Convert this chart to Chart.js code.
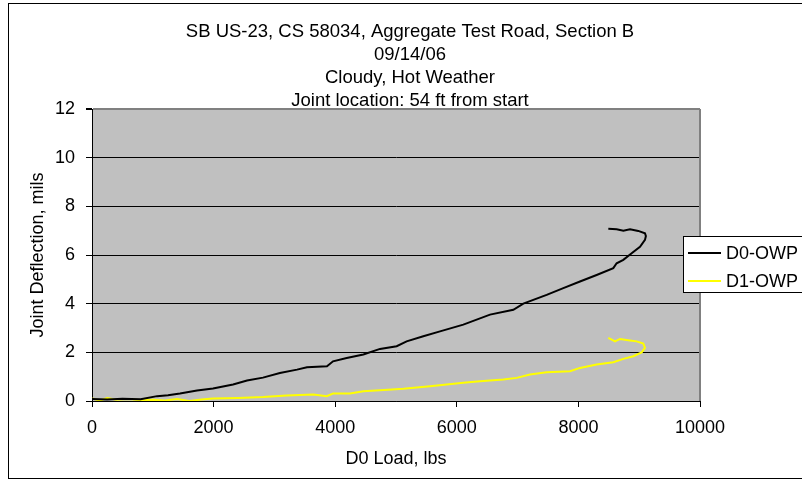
<!DOCTYPE html>
<html><head><meta charset="utf-8">
<script src="https://cdn.jsdelivr.net/npm/chart.js@4.4.1/dist/chart.umd.min.js"></script>
<style>html,body{margin:0;padding:0;background:#fff}canvas{display:block}</style>
</head><body>
<canvas id="c" width="802" height="484"></canvas>
<script>
const titleLines = ['SB US-23, CS 58034, Aggregate Test Road, Section B', '09/14/06', 'Cloudy, Hot Weather', 'Joint location: 54 ft from start'];
const xTitle = 'D0 Load, lbs';
const yTitle = 'Joint Deflection, mils';
const xTickValues = [0, 2000, 4000, 6000, 8000, 10000];
const yTickValues = [0, 2, 4, 6, 8, 10, 12];
const seriesNames = ['D0-OWP', 'D1-OWP'];
const seriesColors = ['#000000', '#FFFF00'];

const loadD0 = [0, 250, 500, 800, 1070, 1250, 1447, 1727, 1990, 2320, 2550, 2812, 3090, 3372, 3536, 3865, 3964, 4189, 4463, 4737, 5011, 5175, 5449, 5724, 6107, 6546, 6930, 7094, 7478, 7752, 8026, 8300, 8574, 8629, 8739, 8876, 9013, 9095, 9110, 9095, 8985, 8849, 8739, 8629, 8492];
const defD0  = [0.08, 0.06, 0.09, 0.07, 0.2, 0.24, 0.31, 0.43, 0.51, 0.68, 0.84, 0.96, 1.15, 1.29, 1.39, 1.43, 1.63, 1.77, 1.91, 2.14, 2.25, 2.45, 2.66, 2.86, 3.14, 3.55, 3.75, 4.0, 4.36, 4.64, 4.91, 5.18, 5.46, 5.66, 5.8, 6.07, 6.34, 6.62, 6.78, 6.89, 6.99, 7.06, 7.0, 7.06, 7.08];

const loadD1 = [0, 130, 250, 400, 600, 800, 1000, 1200, 1400, 1600, 1800, 1990, 2400, 2812, 3200, 3640, 3860, 3964, 4243, 4463, 4737, 5120, 5559, 6107, 6381, 6765, 6984, 7204, 7478, 7862, 8026, 8300, 8574, 8739, 8903, 9040, 9095, 9068, 8958, 8849, 8684, 8602, 8492];
const defD1  = [0.1, 0.02, 0.12, 0.05, 0.08, 0.03, 0.05, 0.02, 0.08, 0.0, 0.06, 0.1, 0.12, 0.16, 0.23, 0.27, 0.2, 0.31, 0.31, 0.4, 0.44, 0.5, 0.61, 0.75, 0.81, 0.88, 0.95, 1.09, 1.18, 1.22, 1.36, 1.5, 1.59, 1.73, 1.84, 2.0, 2.18, 2.36, 2.45, 2.49, 2.55, 2.45, 2.59];

function pts(xs, ys) { return xs.map((x, i) => ({ x: x, y: ys[i] })); }

const FONT = '"Liberation Sans", Arial, sans-serif';

const decor = {
  id: 'decor',
  beforeDraw(chart) {
    const { ctx, chartArea: a } = chart;
    ctx.save();
    ctx.fillStyle = '#C0C0C0';
    ctx.fillRect(a.left, a.top, a.right - a.left, a.bottom - a.top);
    ctx.restore();
  },
  beforeDatasetsDraw(chart) {
    const { ctx, chartArea: a } = chart;
    ctx.save();
    ctx.strokeStyle = '#808080';
    ctx.lineWidth = 2;
    ctx.beginPath();
    ctx.moveTo(a.right, a.top);
    ctx.lineTo(a.right, a.bottom);
    ctx.stroke();
    ctx.restore();
  },
  afterDraw(chart) {
    const { ctx } = chart;
    ctx.save();
    ctx.fillStyle = '#000';
    ctx.font = '18.5px ' + FONT;
    ctx.textAlign = 'center';
    ctx.textBaseline = 'alphabetic';
    titleLines.forEach((t, i) => ctx.fillText(t, 410, 36.5 + i * 23.2));
    ctx.fillStyle = '#fff';
    ctx.fillRect(683.5, 236.5, 140, 56);
    ctx.strokeStyle = '#000';
    ctx.lineWidth = 1;
    ctx.strokeRect(683.5, 236.5, 140, 56);
    ctx.font = '18px ' + FONT;
    ctx.textAlign = 'left';
    ctx.textBaseline = 'middle';
    chart.data.datasets.forEach((ds, i) => {
      const y = 253 + i * 28;
      ctx.strokeStyle = ds.borderColor;
      ctx.lineWidth = 2;
      ctx.beginPath();
      ctx.moveTo(688, y);
      ctx.lineTo(721, y);
      ctx.stroke();
      ctx.fillStyle = '#000';
      ctx.fillText(ds.label, 726, y + 1);
    });
    ctx.strokeStyle = '#000';
    ctx.lineWidth = 1;
    ctx.strokeRect(8.5, 3.5, 900, 475);
    ctx.restore();
  }
};

new Chart(document.getElementById('c'), {
  type: 'scatter',
  data: {
    datasets: [
      { label: seriesNames[0], data: pts(loadD0, defD0), borderColor: seriesColors[0], backgroundColor: seriesColors[0], showLine: true, pointRadius: 0, borderWidth: 2, tension: 0 },
      { label: seriesNames[1], data: pts(loadD1, defD1), borderColor: seriesColors[1], backgroundColor: seriesColors[1], showLine: true, pointRadius: 0, borderWidth: 2, tension: 0 }
    ]
  },
  options: {
    responsive: false,
    animation: false,
    events: [],
    layout: { padding: { left: 20, right: 102, top: 109, bottom: 10 } },
    plugins: { legend: { display: false }, tooltip: { enabled: false }, title: { display: false } },
    scales: {
      x: {
        type: 'linear', min: 0, max: 10000,
        afterBuildTicks: s => { s.ticks = xTickValues.map(v => ({ value: v })); },
        afterFit: s => { s.height = 73; },
        ticks: { font: { family: FONT, size: 18 }, color: '#000', padding: 10, maxRotation: 0, autoSkip: false, callback: v => String(v) },
        grid: { drawOnChartArea: false, drawTicks: true, tickLength: 6, tickColor: '#000' },
        border: { color: '#000', width: 1 },
        title: { display: true, text: xTitle, color: '#000', font: { family: FONT, size: 18 }, padding: { top: 0, bottom: 4 } }
      },
      y: {
        type: 'linear', min: 0, max: 12,
        afterBuildTicks: s => { s.ticks = yTickValues.map(v => ({ value: v })); },
        afterFit: s => { s.width = 72; },
        ticks: { font: { family: FONT, size: 18 }, color: '#000', padding: 11, autoSkip: false, callback: v => String(v) },
        grid: {
          color: c => (c.tick && c.tick.value === 12) ? '#808080' : '#000',
          lineWidth: c => (c.tick && c.tick.value === 12) ? 2 : 1,
          drawTicks: true, tickLength: 6, tickColor: '#000'
        },
        border: { color: '#000', width: 1 },
        title: { display: true, text: yTitle, color: '#000', font: { family: FONT, size: 18 }, padding: { top: 7, bottom: 4 } }
      }
    }
  },
  plugins: [decor]
});
</script>
</body></html>
